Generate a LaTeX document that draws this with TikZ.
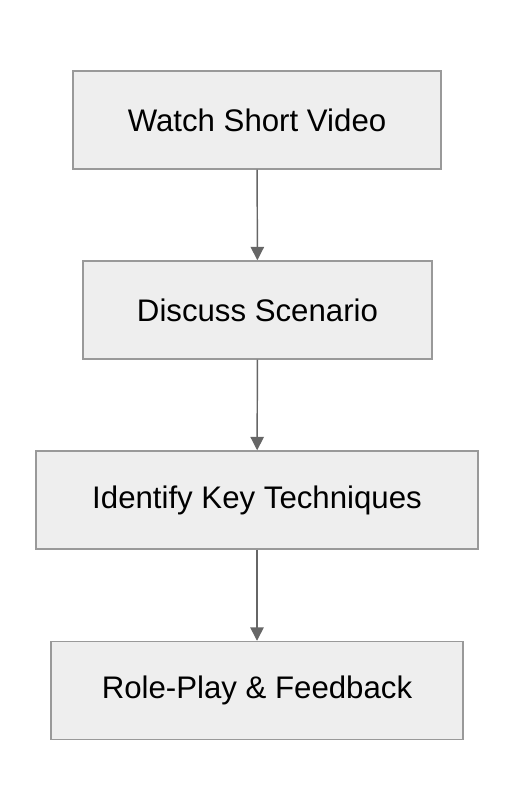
\documentclass[tikz,border=0pt]{standalone}
\usepackage{fontspec}
\setmainfont{Liberation Sans}
\usetikzlibrary{arrows.meta}
\definecolor{boxfill}{HTML}{EEEEEE}
\definecolor{boxline}{HTML}{999999}
\definecolor{arrowline}{HTML}{666666}
\tikzset{>={Triangle[length=10pt,width=10pt]}}

\begin{document}
\begin{tikzpicture}[x=0.75pt,y=-0.75pt,
    stepbox/.style={draw=boxline,fill=boxfill,line width=1.1pt,minimum height=73.5pt,inner sep=0pt,font=\fontsize{23.4}{28}\selectfont},
    flow/.style={->,draw=arrowline,line width=1.1pt}]
      \useasboundingbox (0,0) rectangle (514,812);
        \node[stepbox,minimum width=276pt] (watch) at (257,120) {Watch Short Video};
        \node[stepbox,minimum width=261.75pt] (discuss) at (257.5,310) {Discuss Scenario};
        \node[stepbox,minimum width=331.5pt] (identify) at (257,500) {Identify Key Techniques};
        \node[stepbox,minimum width=309pt] (roleplay) at (257,690.5) {Role-Play \& Feedback};
        \draw[flow] (watch) -- (discuss);
        \draw[flow] (discuss) -- (identify);
        \draw[flow] (identify) -- (roleplay);
       \end{tikzpicture}
\end{document}
